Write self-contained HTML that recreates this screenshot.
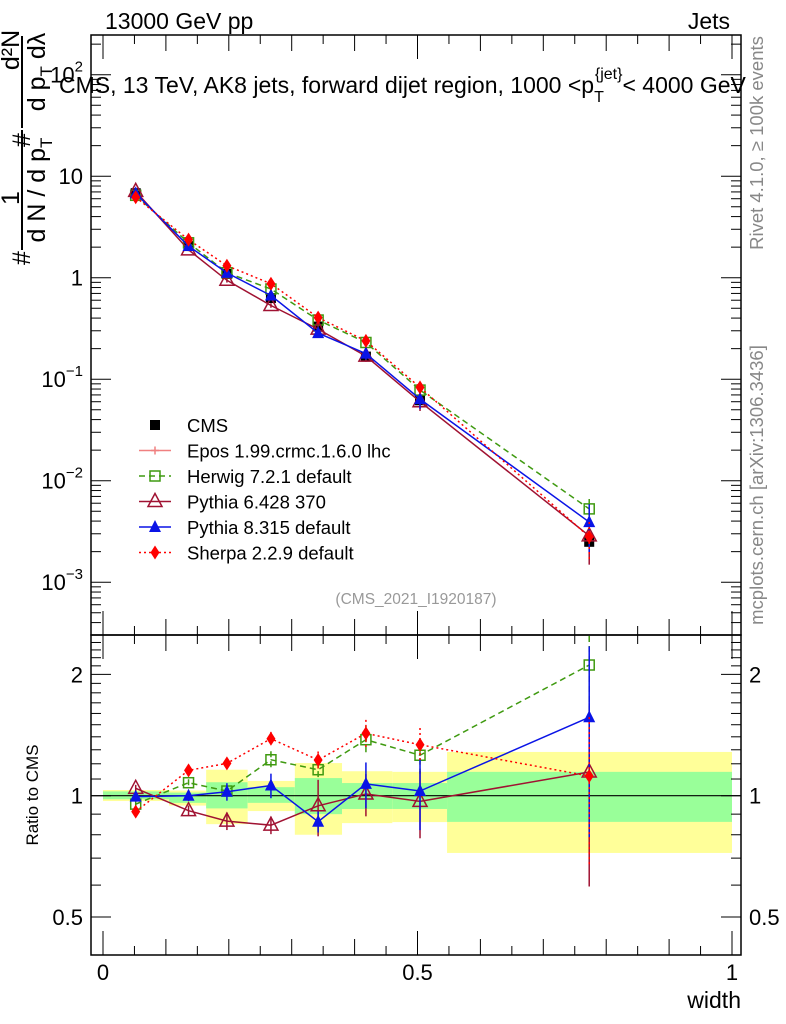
<!DOCTYPE html>
<html><head><meta charset="utf-8"><style>
body{margin:0;background:#fff;}
svg{display:block;font-family:"Liberation Sans",sans-serif;}
</style></head><body>
<svg id="chart" width="786" height="1024" viewBox="0 0 786 1024">
<defs>
<clipPath id="clipMain"><rect x="91" y="35" width="650" height="600"/></clipPath>
<clipPath id="clipRatio"><rect x="91" y="635" width="650" height="320"/></clipPath>
</defs>
<g id="bands" clip-path="url(#clipRatio)"></g>
<g id="grid"></g>
<g id="series"></g>
<rect x="91" y="35" width="650" height="600" fill="none" stroke="#000" stroke-width="1.5"/>
<rect x="91" y="635" width="650" height="320" fill="none" stroke="#000" stroke-width="1.5"/>
<g id="ticks"></g>
<text x="105" y="29" font-size="23">13000 GeV pp</text>
<text x="730" y="29" font-size="23" text-anchor="end">Jets</text>
<text x="59" y="93" font-size="23">CMS, 13 TeV, AK8 jets, forward dijet region, 1000 &lt;p<tspan font-size="16" dy="9">T</tspan><tspan font-size="16" dy="-23" dx="-9">{jet}</tspan><tspan dy="14">&lt; 4000 GeV</tspan></text>
<text x="416" y="604" font-size="15.5" fill="#999" text-anchor="middle">(CMS_2021_I1920187)</text>
<text transform="translate(763,143) rotate(-90)" font-size="18.5" fill="#888" text-anchor="middle">Rivet 4.1.0, ≥ 100k events</text>
<text transform="translate(763,485) rotate(-90)" font-size="18.5" fill="#888" text-anchor="middle">mcplots.cern.ch [arXiv:1306.3436]</text>
<g font-size="25">
<text transform="translate(30,258) rotate(-90)" text-anchor="middle">#</text>
<text transform="translate(19,198) rotate(-90)" text-anchor="middle">1</text>
<line x1="22" y1="130" x2="22" y2="250" stroke="#000" stroke-width="2"/>
<text transform="translate(45,190) rotate(-90)" text-anchor="middle">d N / d p<tspan font-size="17" dy="7">T</tspan></text>
<text transform="translate(30,140) rotate(-90)" text-anchor="middle">#</text>
<text transform="translate(19,50) rotate(-90)" text-anchor="middle">d²N</text>
<line x1="22" y1="36" x2="22" y2="128" stroke="#000" stroke-width="2"/>
<text transform="translate(45,72) rotate(-90)" text-anchor="middle">d p<tspan font-size="17" dy="7">T</tspan><tspan dy="-7"> dλ</tspan></text>
</g>
<text transform="translate(38,795) rotate(-90)" font-size="17" text-anchor="middle">Ratio to CMS</text>
<text x="741" y="1008" font-size="23" text-anchor="end">width</text>
<g id="legend"></g>
</svg>
<script>
const edges=[0,0.105,0.164,0.23,0.305,0.38,0.46,0.547,1.0];
const xPoints=[0.052,0.136,0.197,0.267,0.342,0.418,0.504,0.773];
const cmsValues=[6.8,2.05,1.09,0.63,0.33,0.167,0.062,0.0025];
const yellowUp=[1.033,1.03,1.16,1.088,1.205,1.15,1.146,1.284];
const yellowDn=[0.97,0.945,0.85,0.916,0.80,0.855,0.86,0.721];
const greenUp=[1.025,1.018,1.08,1.05,1.106,1.075,1.075,1.146];
const greenDn=[0.98,0.96,0.93,0.96,0.90,0.927,0.927,0.861];
const herwigRatio=[0.953,1.077,1.027,1.228,1.16,1.377,1.26,2.11];
const herwigErr=[0.02,0.02,0.03,0.05,0.05,0.08,0.1,0.25];
const pythia6Ratio=[1.043,0.918,0.865,0.845,0.944,1.01,0.968,1.145];
const pythia6Err=[0.02,0.03,0.05,0.05,0.16,0.12,0.19,0.48];
const pythia8Ratio=[0.995,1.0,1.023,1.06,0.862,1.07,1.027,1.565];
const pythia8Err=[0.01,0.03,0.05,0.07,0.06,0.13,0.2,0.5];
const sherpaRatio=[0.913,1.156,1.203,1.385,1.226,1.428,1.338,1.119];
const sherpaErr=[0.02,0.03,0.03,0.04,0.05,0.08,0.1,0.4];
const legendLabels=["CMS","Epos 1.99.crmc.1.6.0 lhc","Herwig 7.2.1 default","Pythia 6.428 370","Pythia 8.315 default","Sherpa 2.2.9 default"];
const mainTickExps=[-3,-2,-1,0,1,2];
const ratioTicks=[0.5,1,2];
const xTickLabels=[0,0.5,1];

const NS="http://www.w3.org/2000/svg";
const X=v=>103+629*v;
const YM=v=>277.7-101.5*Math.log10(v);
const YR=r=>795.7-403*Math.log10(r);
function mk(tag,attrs,parent){const e=document.createElementNS(NS,tag);for(const k in attrs)e.setAttribute(k,attrs[k]);parent.appendChild(e);return e;}
const bands=document.getElementById('bands'),ticks=document.getElementById('ticks'),series=document.getElementById('series'),legend=document.getElementById('legend');

for(let i=0;i<8;i++){
 const y=mk('rect',{x:X(edges[i]),y:YR(yellowUp[i]),width:X(edges[i+1])-X(edges[i]),height:YR(yellowDn[i])-YR(yellowUp[i]),fill:'#ffff99'},bands);
 
 
 const g=mk('rect',{x:X(edges[i]),y:YR(greenUp[i]),width:X(edges[i+1])-X(edges[i]),height:YR(greenDn[i])-YR(greenUp[i]),fill:'#99ff99'},bands);
 
 
}
const one=mk('line',{x1:91,x2:741,y1:YR(1),y2:YR(1),stroke:'#000','stroke-width':1.2},bands);



for(let e=-4;e<=2;e++){for(let m=1;m<10;m++){const v=m*Math.pow(10,e);const y=YM(v);if(y<35||y>635)continue;const L=m==1?20:10;
 mk('line',{x1:91,x2:91+L,y1:y,y2:y,stroke:'#000'},ticks);mk('line',{x1:741,x2:741-L,y1:y,y2:y,stroke:'#000'},ticks);}}
mainTickExps.forEach(e=>{const y=YM(Math.pow(10,e))+8;const t=mk('text',{x:83,y:y,'font-size':22,'text-anchor':'end'},ticks);
 
 
 if(e==0)t.textContent='1';else if(e==1)t.textContent='10';else{t.textContent='10';const s=mk('tspan',{'font-size':15,dy:-11},t);s.textContent=String(e).replace('-','−');}
});
for(let v=0.4;v<=2.4;v=+(v+0.1).toFixed(1)){const y=YR(v);if(y<635||y>955)continue;const L=[0.5,1,2].includes(v)?20:10;
 mk('line',{x1:91,x2:91+L,y1:y,y2:y,stroke:'#000'},ticks);mk('line',{x1:741,x2:741-L,y1:y,y2:y,stroke:'#000'},ticks);}
ratioTicks.forEach(r=>{const y=YR(r)+8;
 const a=mk('text',{x:83,y:y,'font-size':22,'text-anchor':'end'},ticks);a.textContent=String(r);
 
 
 const b=mk('text',{x:749,y:y,'font-size':22},ticks);b.textContent=String(r);
 
 });
for(let k=0;k<=20;k++){const v=k*0.05;const x=X(v);const L=(k%10==0)?24:(k%2==0?16:9);
 [[35,1],[635,1],[635,-1],[955,-1]].forEach(([y0,d])=>mk('line',{x1:x,x2:x,y1:y0,y2:y0+d*L,stroke:'#000'},ticks));}
xTickLabels.forEach(v=>{const t=mk('text',{x:X(v),y:980,'font-size':22,'text-anchor':'middle'},ticks);t.textContent=String(v);
 
 });

function marker(type,x,y,color,parent){
 if(type=='sq')return mk('rect',{x:x-5,y:y-5,width:10,height:10,fill:color},parent);
 if(type=='osq')return mk('rect',{x:x-5,y:y-5,width:10,height:10,fill:'none',stroke:color,'stroke-width':1.5},parent);
 if(type=='otri')return mk('path',{d:`M${x},${y-8}L${x+7},${y+5}L${x-7},${y+5}Z`,fill:'none',stroke:color,'stroke-width':1.5},parent);
 if(type=='tri')return mk('path',{d:`M${x},${y-7}L${x+6},${y+5}L${x-6},${y+5}Z`,fill:color},parent);
 if(type=='dia')return mk('path',{d:`M${x},${y-7}L${x+4.5},${y}L${x},${y+7}L${x-4.5},${y}Z`,fill:color},parent);
 if(type=='cross')return mk('path',{d:`M${x-4},${y}h8M${x},${y-4}v8`,stroke:color,'stroke-width':1.5},parent);
}
const models=[
 {name:'herwig',r:herwigRatio,e:herwigErr,c:'#3f9a10',dash:'6,4',m:'osq'},
 {name:'pythia6',r:pythia6Ratio,e:pythia6Err,c:'#a01232',dash:'',m:'otri'},
 {name:'pythia8',r:pythia8Ratio,e:pythia8Err,c:'#0a14e6',dash:'',m:'tri'},
 {name:'sherpa',r:sherpaRatio,e:sherpaErr,c:'#ff0000',dash:'2,3',m:'dia'}];
const gm=mk('g',{'clip-path':'url(#clipMain)'},series);
const gr=mk('g',{'clip-path':'url(#clipRatio)'},series);
xPoints.forEach((x,i)=>{const p=marker('sq',X(x),YM(cmsValues[i]),'#000',gm);
 
 });
models.forEach(md=>{
 const mainPts=xPoints.map((x,i)=>[X(x),YM(cmsValues[i]*md.r[i])]);
 const ratPts=xPoints.map((x,i)=>[X(x),YR(md.r[i])]);
 const l1=mk('polyline',{points:mainPts.join(' '),fill:'none',stroke:md.c,'stroke-width':1.5,'stroke-dasharray':md.dash},gm);
 
 
 const l2=mk('polyline',{points:ratPts.join(' '),fill:'none',stroke:md.c,'stroke-width':1.5,'stroke-dasharray':md.dash},gr);
 
 
 xPoints.forEach((x,i)=>{
  const v=cmsValues[i]*md.r[i];
  mk('line',{x1:X(x),x2:X(x),y1:YM(v*(1+md.e[i])),y2:YM(v*Math.max(0.05,1-md.e[i])),stroke:md.c,'stroke-width':1.5,'stroke-dasharray':md.dash},gm);
  mk('line',{x1:X(x),x2:X(x),y1:YR(md.r[i]+md.e[i]*md.r[i]),y2:YR(md.r[i]*Math.max(0.05,1-md.e[i])),stroke:md.c,'stroke-width':1.5,'stroke-dasharray':md.dash},gr);
  const a=marker(md.m,X(x),YM(v),md.c,gm);
  
  
  const b=marker(md.m,X(x),YR(md.r[i]),md.c,gr);
  
  
 });
});
const legTypes=[['sq','#000',''],['cross','#f08080',''],['osq','#3f9a10','6,4'],['otri','#a01232',''],['tri','#0a14e6',''],['dia','#ff0000','2,3']];
legendLabels.forEach((lab,i)=>{const y=425+i*25.5;
 const g=mk('g',{},legend);
 
 
 if(i>0)mk('line',{x1:139,x2:171,y1:y,y2:y,stroke:legTypes[i][1],'stroke-width':1.5,'stroke-dasharray':legTypes[i][2]},g);
 marker(legTypes[i][0],155,y,legTypes[i][1],g);
 const t=mk('text',{x:187,y:y+7,'font-size':18.5},g);t.textContent=lab;});
</script>
</body></html>
